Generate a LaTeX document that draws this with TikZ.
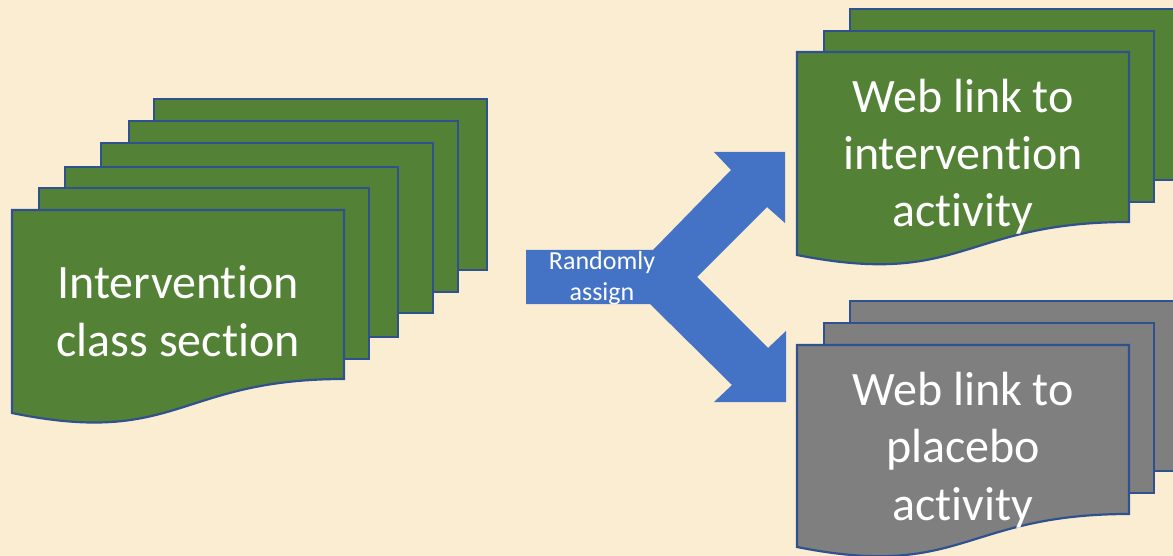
\documentclass[tikz,border=0pt]{standalone}
\usepackage{fontspec}
\setmainfont[Ligatures=NoCommon]{Carlito}
\definecolor{paper}{HTML}{FBEDD2}
\definecolor{leaf}{HTML}{538135}
\definecolor{slate}{HTML}{7F7F7F}
\definecolor{edge}{HTML}{2F528F}
\definecolor{flow}{HTML}{4472C4}

\tikzset{
  sheet/.style={draw=edge, line width=2.2pt, line join=miter},
  biglabel/.style={text=white, align=center, inner sep=0pt, anchor=base,
    font=\fontsize{48}{58}\selectfont},
  sidelabel/.style={text=white, align=center, inner sep=0pt, anchor=base,
    font=\fontsize{48}{57.5}\selectfont},
  smalllabel/.style={text=white, align=center, inner sep=0pt, anchor=base,
    font=\fontsize{26}{31}\selectfont},
}

% a plain sheet behind the stack: fill, left, top, right, bottom
\newcommand\backsheet[5]{%
  \filldraw[sheet, fill=#1] (#2,#3) rectangle (#4,#5);}
% the front sheet with its wavy lower edge: fill, left, top, right, right-end y, left-end y
\newcommand\frontsheet[6]{%
  \filldraw[sheet, fill=#1] (#2,#3) -- (#4,#3) -- (#4,#5)
    .. controls ({(#2+#4)/2},#5) and ({(#2+#4)/2},{#6+(#6-#5)}) .. (#2,#6) -- cycle;}

\begin{document}
\begin{tikzpicture}[x=1pt,y=-1pt]
  \useasboundingbox (0,0) rectangle (1173,556);
  \fill[paper] (0,0) rectangle (1173,556);
  \clip (0,0) rectangle (1173,556);

  % class sections (labels are placed by the baseline of their last line)
  \backsheet{leaf}{154}{99}{487}{270}
  \backsheet{leaf}{129}{121}{458}{292}
  \backsheet{leaf}{101}{143}{433}{313}
  \backsheet{leaf}{65}{167}{398}{337}
  \backsheet{leaf}{39}{188}{369}{359}
  \frontsheet{leaf}{12}{210}{344}{379}{413}
  \node[biglabel] (section) at (178,356) {Intervention\\class section};

  % intervention links
  \backsheet{leaf}{850}{9}{1182}{180}
  \backsheet{leaf}{824}{31}{1154}{202}
  \frontsheet{leaf}{797}{52}{1129}{222}{255}
  \node[sidelabel] (treat) at (963,227) {Web link to\\intervention\\activity};

  % placebo links
  \backsheet{slate}{850}{301}{1182}{471}
  \backsheet{slate}{824}{323}{1154}{493}
  \frontsheet{slate}{797}{345}{1129}{514}{547}
  \node[sidelabel] (placebo) at (963,520) {Web link to\\placebo\\activity};

  % forked arrow
  \fill[flow] (526,250) -- (653,250) -- (731,170) -- (714,152) -- (785,152)
    -- (785,223) -- (767,207) -- (697,277) -- (768,348) -- (786,331)
    -- (786,402) -- (714,402) -- (732,385) -- (650,304) -- (526,304) -- cycle;
  \node[smalllabel] (assign) at (602,300) {Randomly\\assign};
\end{tikzpicture}
\end{document}
